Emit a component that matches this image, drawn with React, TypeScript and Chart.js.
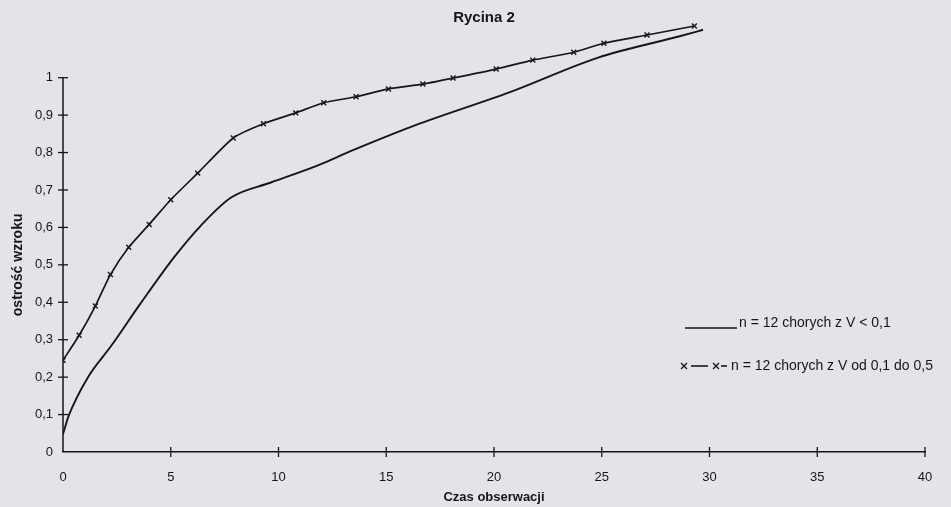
import React, { useEffect, useRef } from 'react';
import { Chart, registerables } from 'chart.js';

Chart.register(...registerables);

const TITLE = 'Rycina 2';
const X_TITLE = 'Czas obserwacji';
const Y_TITLE = 'ostrość wzroku';
const SERIES_LABELS = ['n = 12 chorych z V < 0,1', 'n = 12 chorych z V od 0,1 do 0,5'];

const X_MIN = 0;
const X_MAX = 40;
const X_STEP = 5;
const Y_MIN = 0;
const Y_AXIS_END = 1; // drawn axis ends here
const Y_MAX = 1.16; // headroom so the curves can run above the axis end
const Y_STEP = 0.1;

const solidX = [0, 0.28, 1.16, 2.23, 3.6, 5.15, 6.4, 7.8, 9.65, 11.8, 13.4, 16.3, 20.9, 24.8, 28.7, 29.7];
const solidY = [0.048, 0.099, 0.2, 0.283, 0.397, 0.52, 0.605, 0.68, 0.72, 0.765, 0.805, 0.872, 0.965, 1.053, 1.112, 1.128];

const crossX = [0, 0.75, 1.5, 2.2, 3.05, 4.0, 5.0, 6.25, 7.9, 9.3, 10.8, 12.1, 13.6, 15.1, 16.7, 18.1, 20.1, 21.8, 23.7, 25.1, 27.1, 29.3];
const crossY = [0.245, 0.312, 0.39, 0.474, 0.547, 0.608, 0.674, 0.745, 0.839, 0.877, 0.906, 0.933, 0.949, 0.97, 0.983, 0.999, 1.023, 1.047, 1.068, 1.092, 1.114, 1.138];

const INK = '#161616';
const PAPER = '#e3e4e8';
const FONT = '"Liberation Sans", Arial, sans-serif';

function fmt(v: number) {
  const s = Number(v).toFixed(1);
  return s.endsWith('.0') ? s.slice(0, -2) : s.replace('.', ',');
}

function drawX(ctx: CanvasRenderingContext2D, x: number, y: number, r: number) {
  ctx.beginPath();
  ctx.moveTo(x - r, y - r);
  ctx.lineTo(x + r, y + r);
  ctx.moveTo(x + r, y - r);
  ctx.lineTo(x - r, y + r);
  ctx.stroke();
}

const paperPlugin = {
  id: 'paper',
  beforeDraw(chart: any) {
    const { ctx, width, height } = chart;
    ctx.save();
    ctx.fillStyle = PAPER;
    ctx.fillRect(0, 0, width, height);
    ctx.restore();
  },
};

const decorPlugin = {
  id: 'decor',
  afterDraw(chart: any) {
    const { ctx, chartArea } = chart;
    const xs = chart.scales.x;
    const ys = chart.scales.y;
    const y0 = ys.getPixelForValue(Y_MIN);
    const y1 = ys.getPixelForValue(Y_AXIS_END);
    ctx.save();
    ctx.strokeStyle = INK;

    // y axis line (0 .. 1)
    ctx.lineWidth = 1.5;
    ctx.beginPath();
    ctx.moveTo(chartArea.left, y0);
    ctx.lineTo(chartArea.left, y1);
    ctx.stroke();

    // crossing tick marks
    ctx.lineWidth = 1.3;
    ys.ticks.forEach((t: any) => {
      if (t.value <= 0 || t.value > Y_AXIS_END + 1e-6) return;
      const py = ys.getPixelForValue(t.value);
      ctx.beginPath();
      ctx.moveTo(chartArea.left - 5, py);
      ctx.lineTo(chartArea.left + 5, py);
      ctx.stroke();
    });
    xs.ticks.forEach((t: any) => {
      if (t.value === 0) return;
      const px = xs.getPixelForValue(t.value);
      ctx.beginPath();
      ctx.moveTo(px, chartArea.bottom - 5);
      ctx.lineTo(px, chartArea.bottom + 5);
      ctx.stroke();
    });

    // title
    ctx.fillStyle = INK;
    ctx.font = `bold 15px ${FONT}`;
    ctx.textAlign = 'center';
    ctx.textBaseline = 'middle';
    ctx.fillText(TITLE, (chartArea.left + chartArea.right) / 2 - 10, 18);

    // y axis title, centred on the drawn axis
    ctx.save();
    ctx.font = `bold 14px ${FONT}`;
    ctx.translate(18, (y0 + y1) / 2);
    ctx.rotate(-Math.PI / 2);
    ctx.fillText(Y_TITLE, 0, 0);
    ctx.restore();

    // legend
    const ds = chart.data.datasets;
    ctx.font = `14px ${FONT}`;
    ctx.textAlign = 'left';
    ctx.textBaseline = 'middle';
    ctx.lineWidth = 1.6;
    ctx.beginPath();
    ctx.moveTo(685, 328);
    ctx.lineTo(737, 328);
    ctx.stroke();
    ctx.fillText(ds[0].label, 739, 323);

    const ly = 366;
    ctx.lineWidth = 1.3;
    drawX(ctx, 684, ly, 3);
    ctx.lineWidth = 1.6;
    ctx.beginPath();
    ctx.moveTo(691, ly);
    ctx.lineTo(708, ly);
    ctx.stroke();
    ctx.lineWidth = 1.3;
    drawX(ctx, 716, ly, 3);
    ctx.lineWidth = 1.6;
    ctx.beginPath();
    ctx.moveTo(721, ly);
    ctx.lineTo(727, ly);
    ctx.stroke();
    ctx.fillText(ds[1].label, 731, ly);
    ctx.restore();
  },
};

export default function App() {
  const ref = useRef<HTMLCanvasElement | null>(null);

  useEffect(() => {
    document.body.style.margin = '0';
    const canvas = ref.current;
    if (!canvas) return;
    Chart.defaults.font.family = FONT;
    Chart.defaults.color = INK;

    const chart = new Chart(canvas, {
      type: 'line',
      data: {
        datasets: [
          {
            label: SERIES_LABELS[0],
            data: solidX.map((x, i) => ({ x, y: solidY[i] })),
            borderColor: INK,
            borderWidth: 1.9,
            pointRadius: 0,
            cubicInterpolationMode: 'monotone',
            fill: false,
          },
          {
            label: SERIES_LABELS[1],
            data: crossX.map((x, i) => ({ x, y: crossY[i] })),
            borderColor: INK,
            borderWidth: 1.7,
            pointStyle: 'crossRot',
            pointRadius: 3.5,
            pointBorderWidth: 1.4,
            pointBorderColor: INK,
            tension: 0.2,
            fill: false,
          },
        ],
      },
      options: {
        animation: false,
        responsive: false,
        layout: { padding: { top: 17, right: 26, bottom: 0, left: 0 } },
        plugins: {
          legend: { display: false },
          title: { display: false },
          tooltip: { enabled: false },
        },
        scales: {
          x: {
            type: 'linear',
            min: X_MIN,
            max: X_MAX,
            grid: { display: false, drawTicks: false },
            border: { display: true, color: INK, width: 1.5 },
            ticks: {
              stepSize: X_STEP,
              padding: 18,
              font: { size: 13 },
              color: INK,
              callback: (v: any) => fmt(v),
            },
            title: {
              display: true,
              text: X_TITLE,
              font: { size: 13, weight: 'bold' },
              color: INK,
              padding: { top: 0, bottom: 2 },
            },
            afterFit: (s: any) => {
              s.height = 55;
            },
          },
          y: {
            type: 'linear',
            min: Y_MIN,
            max: Y_MAX,
            grid: { display: false, drawTicks: false },
            border: { display: false },
            ticks: {
              stepSize: Y_STEP,
              padding: 10,
              font: { size: 13 },
              color: INK,
              callback: (v: any) => (Number(v) > Y_AXIS_END + 1e-6 ? '' : fmt(v)),
            },
            afterFit: (s: any) => {
              s.width = 63;
            },
          },
        },
      },
      plugins: [paperPlugin, decorPlugin],
    } as any);

    return () => chart.destroy();
  }, []);

  return <canvas ref={ref} width={951} height={507} style={{ display: 'block' }} />;
}
